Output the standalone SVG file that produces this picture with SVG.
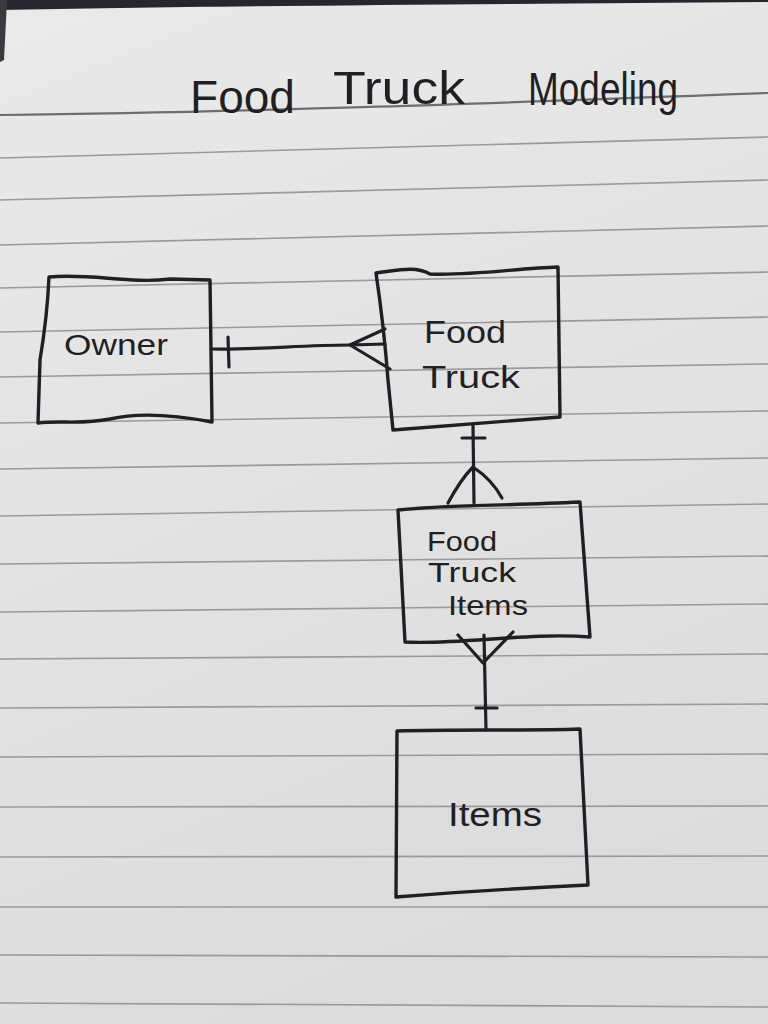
<svg xmlns="http://www.w3.org/2000/svg" width="768" height="1024" viewBox="0 0 768 1024">
<defs>
<linearGradient id="paper" x1="0" y1="0" x2="0.3" y2="1">
<stop offset="0" stop-color="#eaeaea"/>
<stop offset="1" stop-color="#dcdcdc"/>
</linearGradient>
<style>
.rule{stroke:#9a9a9a;stroke-width:1.6;fill:none}
.ink{stroke:#1f1f24;stroke-width:3.2;fill:none;stroke-linecap:round;stroke-linejoin:round}
.box{stroke:#1f1f24;stroke-width:3.4;fill:none;stroke-linejoin:round}
.hand{font-family:"Liberation Sans","DejaVu Sans",sans-serif;fill:#1f1f24}
</style>
</defs>
<rect x="0" y="0" width="768" height="1024" fill="url(#paper)"/>
<path d="M0,0 H768 V2 C500,4 200,6 0,10 Z" fill="#262630"/>
<path d="M0,0 H7 C6,20 5,40 4,60 L0,62 Z" fill="#3a3a40"/>
<g id="paper-lines">
<path d="M0,115 C250,112 500,103 768,93" stroke="#6e6e6e" stroke-width="2.2" fill="none"/>
<line class="rule" x1="0" y1="158" x2="768" y2="137"/>
<line class="rule" x1="0" y1="200" x2="768" y2="180"/>
<line class="rule" x1="0" y1="245" x2="768" y2="226"/>
<line class="rule" x1="0" y1="288" x2="768" y2="272"/>
<line class="rule" x1="0" y1="332" x2="768" y2="317"/>
<line class="rule" x1="0" y1="377" x2="768" y2="364"/>
<line class="rule" x1="0" y1="423" x2="768" y2="411"/>
<line class="rule" x1="0" y1="469" x2="768" y2="458"/>
<line class="rule" x1="0" y1="516" x2="768" y2="504"/>
<line class="rule" x1="0" y1="564" x2="768" y2="556"/>
<line class="rule" x1="0" y1="612" x2="768" y2="604"/>
<line class="rule" x1="0" y1="659" x2="768" y2="654"/>
<line class="rule" x1="0" y1="708" x2="768" y2="704"/>
<line class="rule" x1="0" y1="757" x2="768" y2="754"/>
<line class="rule" x1="0" y1="807" x2="768" y2="806"/>
<line class="rule" x1="0" y1="857" x2="768" y2="856"/>
<line class="rule" x1="0" y1="907" x2="768" y2="907"/>
<line class="rule" x1="0" y1="955" x2="768" y2="957"/>
<line class="rule" x1="0" y1="1003" x2="768" y2="1007"/>
</g>
<g id="title">
<text class="hand" x="190" y="113" font-size="46" textLength="105" lengthAdjust="spacingAndGlyphs">Food</text>
<text class="hand" x="333" y="104" font-size="46" textLength="132" lengthAdjust="spacingAndGlyphs">Truck</text>
<text class="hand" x="528" y="105" font-size="46" textLength="150" lengthAdjust="spacingAndGlyphs">Modeling</text>
</g>
<g id="connectors">
<g id="owner-foodtruck">
<path class="ink" d="M211,349 C260,350 300,345 350,345"/>
<line class="ink" x1="228" y1="337" x2="229" y2="367"/>
<path class="ink" d="M385,329 L350,345 L385,344 M350,345 L390,369"/>
</g>
<g id="foodtruck-foodtruckitems">
<line class="ink" x1="473" y1="426" x2="474" y2="503"/>
<line class="ink" x1="462" y1="438" x2="485" y2="438"/>
<path class="ink" d="M448,503 C455,490 465,475 473,467 C485,475 495,485 502,498"/>
</g>
<g id="foodtruckitems-items">
<path class="ink" d="M458,635 L483,663 L513,632"/>
<line class="ink" x1="484" y1="635" x2="486" y2="730"/>
<line class="ink" x1="476" y1="708" x2="497" y2="708"/>
</g>
</g>
<g id="node-owner">
<path class="box" d="M49,277 C90,273 130,284 170,279 L210,280 L212,422 C180,416 140,412 110,419 C80,425 60,420 38,423 L40,360 C45,330 48,300 49,277 Z"/>
<text class="hand" x="64" y="355" font-size="30" textLength="104" lengthAdjust="spacingAndGlyphs">Owner</text>
</g>
<g id="node-foodtruck">
<path class="box" d="M376,273 C400,270 415,266 430,274 C470,276 520,268 558,267 L560,417 L393,430 L388,380 C385,340 380,300 376,273 Z"/>
<text class="hand" x="424" y="343" font-size="32" textLength="82" lengthAdjust="spacingAndGlyphs">Food</text>
<text class="hand" x="422" y="388" font-size="32" textLength="98" lengthAdjust="spacingAndGlyphs">Truck</text>
</g>
<g id="node-foodtruckitems">
<path class="box" d="M398,510 C440,505 500,506 580,502 L590,637 C530,632 460,645 405,642 Z"/>
<text class="hand" x="427" y="551" font-size="28" textLength="70" lengthAdjust="spacingAndGlyphs">Food</text>
<text class="hand" x="428" y="582" font-size="28" textLength="88" lengthAdjust="spacingAndGlyphs">Truck</text>
<text class="hand" x="448" y="615" font-size="28" textLength="80" lengthAdjust="spacingAndGlyphs">Items</text>
</g>
<g id="node-items">
<path class="box" d="M397,731 C460,729 520,731 580,729 L588,885 C520,888 460,892 396,897 Z"/>
<text class="hand" x="448" y="826" font-size="34" textLength="94" lengthAdjust="spacingAndGlyphs">Items</text>
</g>
</svg>
